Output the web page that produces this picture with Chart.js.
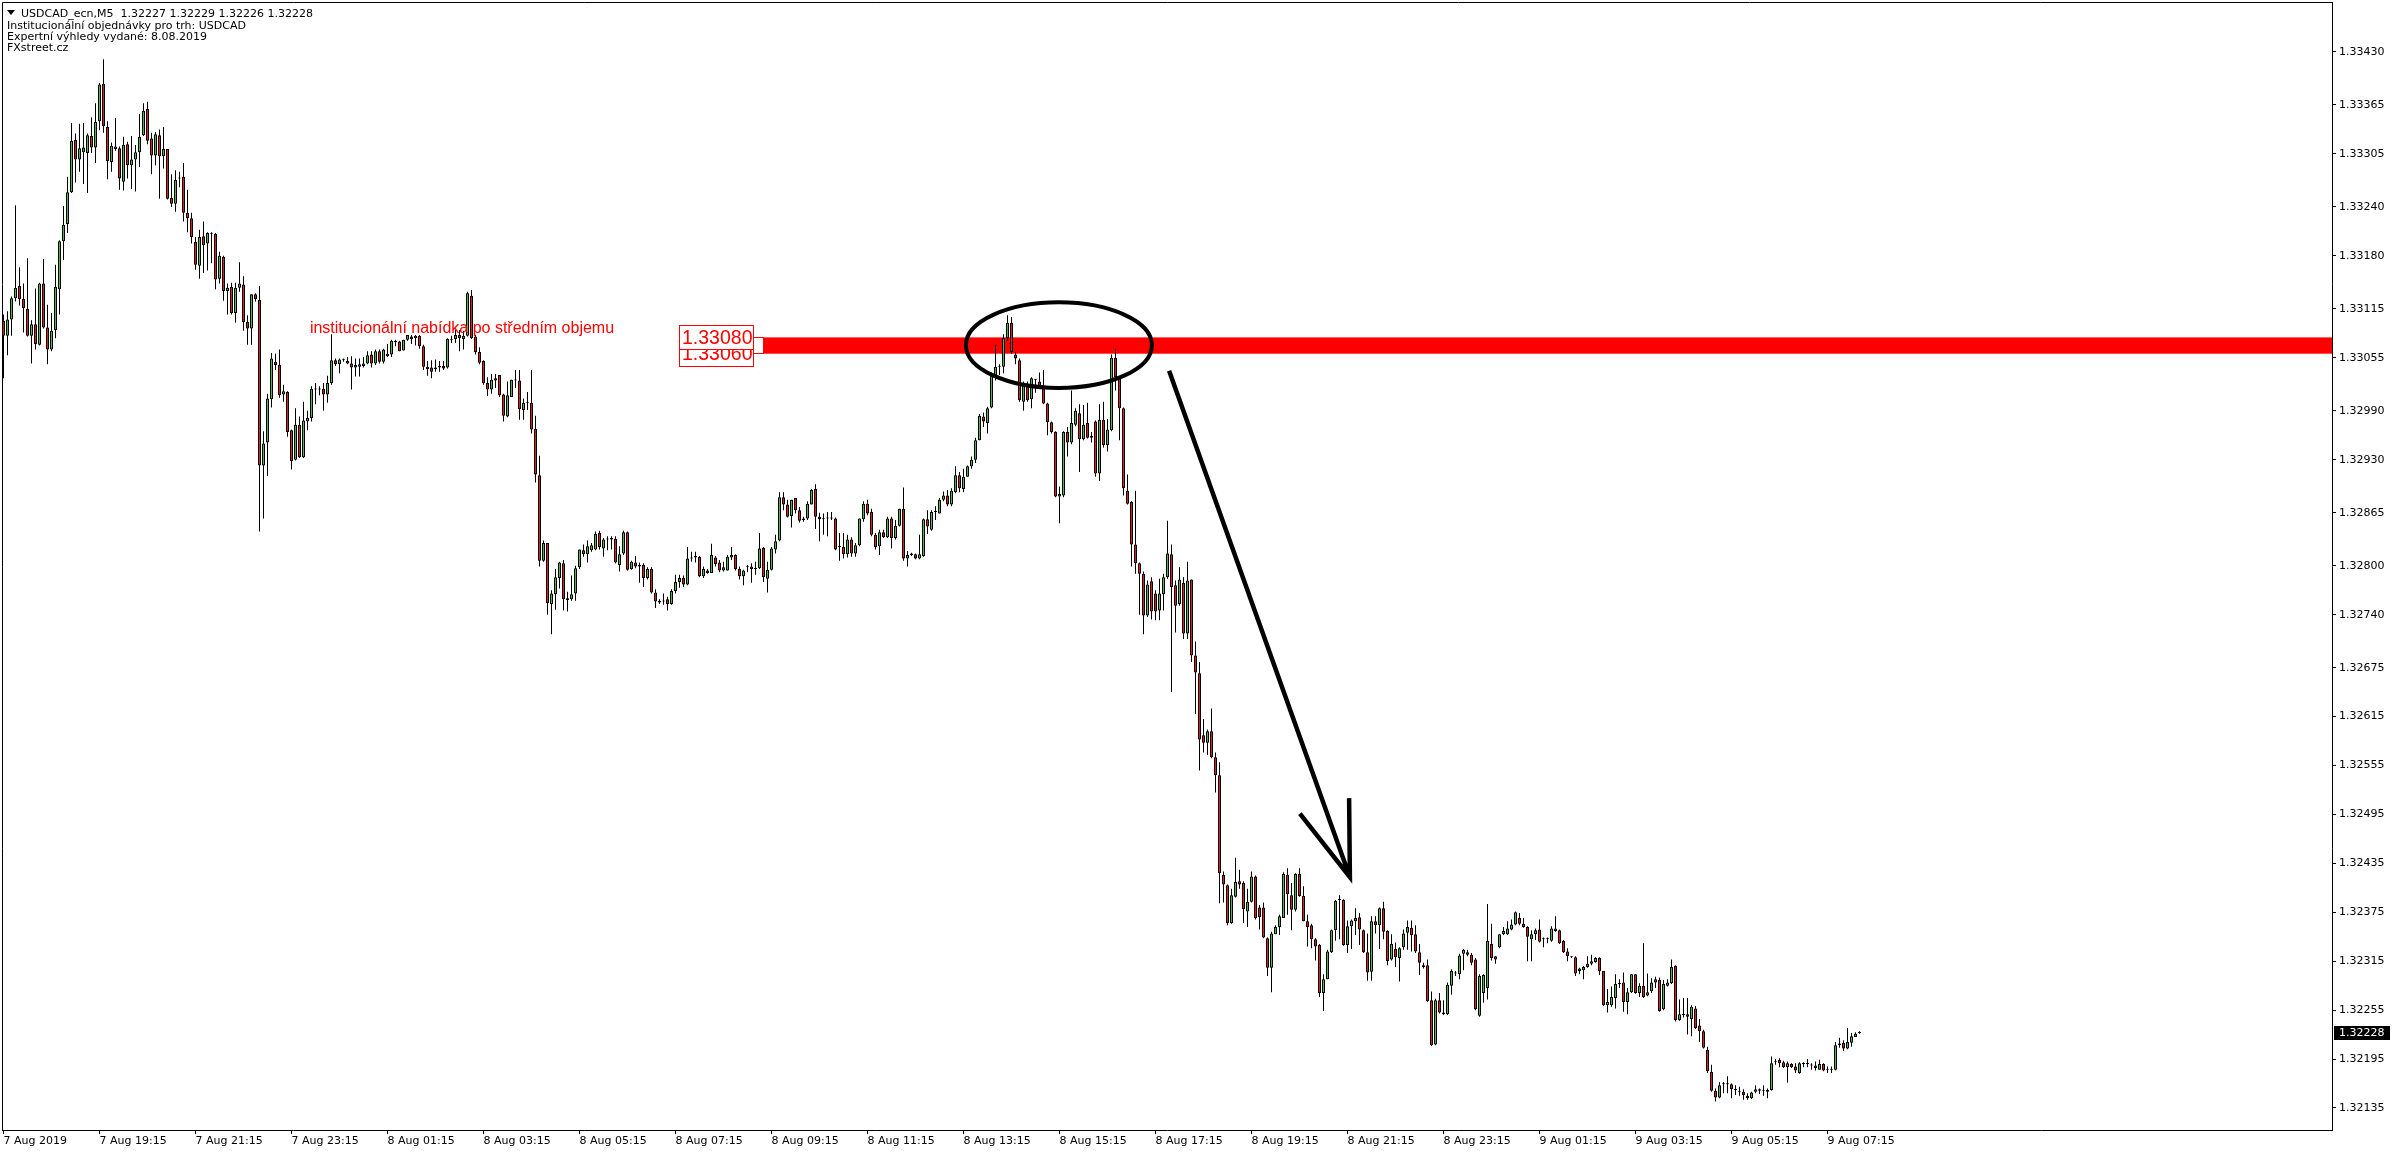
<!DOCTYPE html>
<html>
<head>
<meta charset="utf-8">
<script src="https://cdn.jsdelivr.net/npm/chart.js@4.4.1/dist/chart.umd.min.js"></script>
<style>
  html, body { margin: 0; padding: 0; background: #fff; overflow: hidden; }
  #chart { display: block; }
</style>
</head>
<body>
<canvas id="chart" width="2396" height="1154"></canvas>
<script>
// USDCAD M5 candles, 7 Aug 2019 17:15 -> 9 Aug 2019 07:55 (one entry per 5 min bar)
const opens = [
  1.33100,1.33082,1.33102,1.33128,1.33143,1.33127,1.33115,1.33082,1.33096,1.33071,
  1.33146,1.33092,1.33065,1.33089,1.33139,1.33198,1.33219,1.33258,1.33322,1.33298,
  1.33307,1.33306,1.33327,1.33313,1.33345,1.33391,1.33338,1.33295,1.33314,1.33312,
  1.33271,1.33317,1.33291,1.33298,1.33307,1.33328,1.33360,1.33324,1.33303,1.33328,
  1.33302,1.33311,1.33251,1.33244,1.33276,1.33277,1.33233,1.33226,1.33197,1.33168,
  1.33204,1.33195,1.33208,1.33207,1.33152,1.33179,1.33137,1.33142,1.33110,1.33141,
  1.33145,1.33099,1.33091,1.33133,1.33126,1.32923,1.32951,1.33004,1.33050,1.33046,
  1.33010,1.33013,1.32966,1.32930,1.32973,1.32933,1.32977,1.32981,1.33016,1.33017,
  1.33017,1.33010,1.33024,1.33052,1.33047,1.33053,1.33051,1.33048,1.33043,1.33044,
  1.33045,1.33048,1.33059,1.33048,1.33063,1.33050,1.33060,1.33059,1.33074,1.33075,
  1.33064,1.33077,1.33081,1.33079,1.33082,1.33069,1.33044,1.33043,1.33041,1.33043,
  1.33045,1.33043,1.33077,1.33078,1.33083,1.33078,1.33082,1.33131,1.33081,1.33062,
  1.33051,1.33024,1.33016,1.33027,1.33034,1.33010,1.32983,1.33007,1.33028,1.33027,
  1.32991,1.33000,1.33000,1.32968,1.32911,1.32806,1.32828,1.32753,1.32765,1.32785,
  1.32803,1.32758,1.32759,1.32766,1.32798,1.32819,1.32814,1.32819,1.32820,1.32840,
  1.32821,1.32832,1.32832,1.32833,1.32801,1.32815,1.32841,1.32796,1.32804,1.32799,
  1.32801,1.32785,1.32796,1.32767,1.32757,1.32756,1.32759,1.32753,1.32769,1.32780,
  1.32785,1.32777,1.32809,1.32810,1.32811,1.32787,1.32794,1.32791,1.32810,1.32804,
  1.32794,1.32794,1.32810,1.32813,1.32796,1.32787,1.32798,1.32799,1.32796,1.32797,
  1.32822,1.32784,1.32795,1.32820,1.32831,1.32884,1.32875,1.32861,1.32883,1.32868,
  1.32856,1.32858,1.32875,1.32894,1.32860,1.32857,1.32858,1.32859,1.32858,1.32824,
  1.32823,1.32814,1.32832,1.32815,1.32825,1.32857,1.32876,1.32866,1.32838,1.32824,
  1.32841,1.32835,1.32858,1.32834,1.32849,1.32870,1.32809,1.32815,1.32814,1.32809,
  1.32812,1.32857,1.32844,1.32866,1.32864,1.32881,1.32886,1.32875,1.32890,1.32911,
  1.32894,1.32909,1.32922,1.32930,1.32954,1.32983,1.32975,1.32994,1.33031,1.33044,
  1.33044,1.33079,1.33098,1.33059,1.33052,1.33001,1.33021,1.33004,1.33028,1.33026,
  1.33020,1.32999,1.32976,1.32964,1.32885,1.32886,1.32964,1.32951,1.32973,1.32987,
  1.32955,1.32975,1.32959,1.32977,1.32913,1.32979,1.32948,1.32966,1.33055,1.33030,
  1.32993,1.32892,1.32878,1.32826,1.32803,1.32790,1.32739,1.32781,1.32766,1.32745,
  1.32765,1.32786,1.32814,1.32776,1.32753,1.32779,1.32717,1.32783,1.32690,1.32668,
  1.32592,1.32583,1.32597,1.32565,1.32543,1.32421,1.32408,1.32362,1.32394,1.32413,
  1.32411,1.32376,1.32388,1.32419,1.32381,1.32381,1.32343,1.32307,1.32348,1.32357,
  1.32368,1.32421,1.32396,1.32378,1.32422,1.32395,1.32364,1.32359,1.32342,1.32335,
  1.32276,1.32293,1.32326,1.32353,1.32390,1.32390,1.32335,1.32358,1.32364,1.32369,
  1.32353,1.32326,1.32302,1.32364,1.32359,1.32380,1.32352,1.32317,1.32330,1.32319,
  1.32332,1.32350,1.32356,1.32348,1.32326,1.32310,1.32310,1.32267,1.32213,1.32267,
  1.32252,1.32250,1.32285,1.32300,1.32299,1.32324,1.32326,1.32323,1.32317,1.32248,
  1.32276,1.32282,1.32336,1.32321,1.32332,1.32348,1.32348,1.32354,1.32360,1.32368,
  1.32361,1.32357,1.32342,1.32348,1.32354,1.32343,1.32342,1.32340,1.32355,1.32353,
  1.32340,1.32327,1.32321,1.32320,1.32303,1.32304,1.32308,1.32312,1.32314,1.32319,
  1.32303,1.32261,1.32261,1.32270,1.32287,1.32289,1.32265,1.32277,1.32299,1.32276,
  1.32285,1.32273,1.32278,1.32289,1.32292,1.32256,1.32285,1.32288,1.32309,1.32243,
  1.32249,1.32250,1.32244,1.32257,1.32236,1.32229,1.32206,1.32179,1.32156,1.32148,
  1.32164,1.32164,1.32164,1.32157,1.32156,1.32155,1.32150,1.32147,1.32155,1.32158,
  1.32156,1.32155,1.32157,1.32191,1.32194,1.32191,1.32185,1.32189,1.32186,1.32178,
  1.32189,1.32190,1.32188,1.32187,1.32182,1.32189,1.32182,1.32182,1.32182,1.32212,
  1.32215,1.32208,1.32215,1.32222,1.32227
];
const highs = [
  1.33108,1.33112,1.33130,1.33242,1.33166,1.33146,1.33177,1.33101,1.33140,1.33147,
  1.33176,1.33120,1.33110,1.33169,1.33199,1.33241,1.33277,1.33343,1.33330,1.33342,
  1.33343,1.33330,1.33350,1.33367,1.33392,1.33421,1.33345,1.33319,1.33349,1.33314,
  1.33326,1.33320,1.33327,1.33316,1.33354,1.33367,1.33369,1.33331,1.33332,1.33335,
  1.33338,1.33311,1.33280,1.33285,1.33283,1.33294,1.33261,1.33233,1.33203,1.33212,
  1.33222,1.33209,1.33209,1.33208,1.33185,1.33180,1.33146,1.33147,1.33147,1.33172,
  1.33155,1.33107,1.33133,1.33134,1.33143,1.32965,1.33011,1.33061,1.33060,1.33065,
  1.33022,1.33014,1.32967,1.32993,1.32983,1.33001,1.32990,1.33020,1.33024,1.33020,
  1.33024,1.33033,1.33084,1.33054,1.33054,1.33054,1.33056,1.33057,1.33054,1.33054,
  1.33056,1.33063,1.33063,1.33065,1.33065,1.33066,1.33072,1.33077,1.33077,1.33076,
  1.33077,1.33083,1.33083,1.33083,1.33083,1.33071,1.33051,1.33052,1.33053,1.33051,
  1.33051,1.33079,1.33082,1.33089,1.33089,1.33088,1.33136,1.33138,1.33083,1.33068,
  1.33052,1.33031,1.33035,1.33035,1.33034,1.33011,1.33026,1.33028,1.33040,1.33040,
  1.33005,1.33013,1.33040,1.32984,1.32935,1.32831,1.32828,1.32770,1.32796,1.32805,
  1.32807,1.32768,1.32788,1.32800,1.32820,1.32826,1.32831,1.32828,1.32842,1.32843,
  1.32834,1.32836,1.32836,1.32836,1.32824,1.32843,1.32842,1.32806,1.32812,1.32804,
  1.32803,1.32798,1.32798,1.32771,1.32759,1.32766,1.32762,1.32771,1.32789,1.32789,
  1.32788,1.32823,1.32817,1.32817,1.32812,1.32799,1.32796,1.32827,1.32812,1.32807,
  1.32805,1.32813,1.32823,1.32814,1.32799,1.32795,1.32801,1.32803,1.32805,1.32840,
  1.32823,1.32805,1.32823,1.32838,1.32890,1.32890,1.32881,1.32881,1.32883,1.32872,
  1.32860,1.32879,1.32894,1.32900,1.32865,1.32864,1.32866,1.32866,1.32859,1.32840,
  1.32840,1.32838,1.32835,1.32828,1.32858,1.32879,1.32881,1.32870,1.32840,1.32844,
  1.32844,1.32860,1.32860,1.32856,1.32870,1.32896,1.32818,1.32816,1.32815,1.32838,
  1.32858,1.32868,1.32868,1.32873,1.32883,1.32891,1.32893,1.32895,1.32922,1.32915,
  1.32919,1.32923,1.32934,1.32957,1.32986,1.32988,1.32995,1.33037,1.33071,1.33047,
  1.33084,1.33107,1.33105,1.33062,1.33054,1.33026,1.33026,1.33031,1.33029,1.33037,
  1.33040,1.33000,1.32977,1.32965,1.32897,1.32965,1.32970,1.33015,1.32993,1.32998,
  1.32997,1.33000,1.32964,1.32978,1.32998,1.33001,1.32980,1.33059,1.33066,1.33031,
  1.32994,1.32912,1.32879,1.32892,1.32804,1.32793,1.32782,1.32786,1.32770,1.32784,
  1.32790,1.32855,1.32826,1.32782,1.32798,1.32786,1.32805,1.32783,1.32707,1.32682,
  1.32612,1.32599,1.32625,1.32571,1.32559,1.32425,1.32409,1.32404,1.32442,1.32427,
  1.32413,1.32404,1.32425,1.32420,1.32384,1.32387,1.32344,1.32351,1.32359,1.32372,
  1.32424,1.32429,1.32411,1.32423,1.32429,1.32407,1.32372,1.32361,1.32343,1.32336,
  1.32299,1.32329,1.32354,1.32390,1.32396,1.32391,1.32365,1.32366,1.32380,1.32374,
  1.32354,1.32349,1.32370,1.32370,1.32381,1.32388,1.32353,1.32348,1.32338,1.32332,
  1.32354,1.32365,1.32365,1.32359,1.32336,1.32313,1.32317,1.32278,1.32269,1.32276,
  1.32267,1.32289,1.32305,1.32303,1.32324,1.32330,1.32329,1.32325,1.32319,1.32299,
  1.32299,1.32385,1.32361,1.32321,1.32348,1.32357,1.32364,1.32366,1.32376,1.32374,
  1.32368,1.32358,1.32353,1.32355,1.32366,1.32344,1.32344,1.32358,1.32370,1.32354,
  1.32341,1.32331,1.32321,1.32321,1.32307,1.32309,1.32321,1.32323,1.32320,1.32320,
  1.32303,1.32281,1.32284,1.32299,1.32293,1.32301,1.32282,1.32299,1.32299,1.32288,
  1.32337,1.32300,1.32294,1.32296,1.32295,1.32292,1.32293,1.32317,1.32310,1.32268,
  1.32270,1.32270,1.32261,1.32260,1.32244,1.32231,1.32210,1.32188,1.32159,1.32167,
  1.32167,1.32174,1.32165,1.32163,1.32161,1.32158,1.32153,1.32155,1.32163,1.32159,
  1.32163,1.32159,1.32198,1.32195,1.32196,1.32193,1.32192,1.32190,1.32190,1.32191,
  1.32191,1.32195,1.32190,1.32192,1.32194,1.32190,1.32186,1.32186,1.32216,1.32221,
  1.32218,1.32233,1.32227,1.32228,1.32229
];
const lows = [
  1.33030,1.33058,1.33082,1.33124,1.33119,1.33086,1.33081,1.33048,1.33065,1.33070,
  1.33091,1.33047,1.33063,1.33079,1.33108,1.33175,1.33208,1.33257,1.33270,1.33283,
  1.33268,1.33257,1.33306,1.33294,1.33334,1.33331,1.33274,1.33283,1.33309,1.33261,
  1.33260,1.33275,1.33262,1.33259,1.33289,1.33327,1.33317,1.33280,1.33291,1.33250,
  1.33287,1.33249,1.33240,1.33234,1.33264,1.33222,1.33209,1.33195,1.33163,1.33152,
  1.33159,1.33162,1.33171,1.33139,1.33146,1.33125,1.33108,1.33108,1.33098,1.33136,
  1.33088,1.33071,1.33071,1.33124,1.32842,1.32858,1.32910,1.32994,1.33040,1.33006,
  1.33001,1.32958,1.32918,1.32929,1.32932,1.32932,1.32966,1.32977,1.32998,1.33009,
  1.32990,1.33000,1.33022,1.33045,1.33036,1.33050,1.33047,1.33016,1.33032,1.33032,
  1.33043,1.33047,1.33043,1.33046,1.33048,1.33048,1.33056,1.33056,1.33069,1.33063,
  1.33064,1.33076,1.33072,1.33070,1.33066,1.33040,1.33033,1.33030,1.33038,1.33038,
  1.33040,1.33042,1.33073,1.33073,1.33063,1.33065,1.33081,1.33078,1.33059,1.33047,
  1.33022,1.33008,1.33011,1.33018,1.33007,1.32977,1.32982,1.33007,1.33018,1.32979,
  1.32979,1.32991,1.32962,1.32902,1.32799,1.32805,1.32740,1.32716,1.32746,1.32772,
  1.32745,1.32744,1.32757,1.32757,1.32796,1.32811,1.32804,1.32817,1.32819,1.32820,
  1.32811,1.32819,1.32820,1.32803,1.32793,1.32813,1.32794,1.32795,1.32797,1.32779,
  1.32774,1.32783,1.32766,1.32748,1.32753,1.32752,1.32745,1.32752,1.32766,1.32773,
  1.32774,1.32776,1.32805,1.32804,1.32786,1.32785,1.32790,1.32791,1.32799,1.32792,
  1.32793,1.32794,1.32807,1.32794,1.32783,1.32776,1.32792,1.32779,1.32789,1.32796,
  1.32780,1.32767,1.32794,1.32815,1.32830,1.32868,1.32859,1.32847,1.32864,1.32853,
  1.32854,1.32856,1.32875,1.32845,1.32830,1.32838,1.32836,1.32856,1.32819,1.32806,
  1.32809,1.32810,1.32811,1.32811,1.32824,1.32854,1.32862,1.32836,1.32820,1.32813,
  1.32834,1.32834,1.32821,1.32832,1.32848,1.32806,1.32799,1.32812,1.32808,1.32808,
  1.32811,1.32839,1.32843,1.32856,1.32864,1.32879,1.32873,1.32873,1.32889,1.32890,
  1.32890,1.32909,1.32919,1.32926,1.32954,1.32970,1.32962,1.32993,1.33027,1.33034,
  1.33036,1.33076,1.33060,1.33047,1.33001,1.32990,1.33001,1.32993,1.33012,1.33018,
  1.32998,1.32960,1.32962,1.32884,1.32852,1.32884,1.32934,1.32949,1.32971,1.32915,
  1.32954,1.32956,1.32951,1.32909,1.32904,1.32945,1.32940,1.32965,1.33015,1.32954,
  1.32886,1.32875,1.32799,1.32790,1.32740,1.32716,1.32737,1.32734,1.32733,1.32733,
  1.32745,1.32784,1.32645,1.32718,1.32751,1.32710,1.32710,1.32682,1.32618,1.32549,
  1.32571,1.32568,1.32564,1.32522,1.32386,1.32387,1.32359,1.32361,1.32393,1.32404,
  1.32362,1.32357,1.32387,1.32366,1.32354,1.32343,1.32297,1.32277,1.32348,1.32347,
  1.32368,1.32372,1.32353,1.32376,1.32394,1.32364,1.32333,1.32331,1.32316,1.32271,
  1.32254,1.32293,1.32325,1.32340,1.32342,1.32334,1.32325,1.32330,1.32347,1.32335,
  1.32325,1.32291,1.32291,1.32349,1.32330,1.32342,1.32310,1.32316,1.32308,1.32290,
  1.32329,1.32329,1.32327,1.32325,1.32298,1.32306,1.32265,1.32211,1.32212,1.32251,
  1.32249,1.32249,1.32274,1.32297,1.32293,1.32304,1.32321,1.32310,1.32255,1.32247,
  1.32264,1.32268,1.32316,1.32312,1.32331,1.32347,1.32347,1.32353,1.32359,1.32359,
  1.32356,1.32315,1.32315,1.32341,1.32338,1.32332,1.32337,1.32339,1.32351,1.32336,
  1.32325,1.32315,1.32319,1.32297,1.32299,1.32293,1.32307,1.32310,1.32313,1.32298,
  1.32260,1.32252,1.32259,1.32257,1.32282,1.32253,1.32250,1.32276,1.32275,1.32271,
  1.32270,1.32272,1.32276,1.32282,1.32253,1.32255,1.32284,1.32287,1.32241,1.32242,
  1.32246,1.32225,1.32223,1.32232,1.32216,1.32208,1.32178,1.32155,1.32143,1.32147,
  1.32153,1.32153,1.32147,1.32151,1.32150,1.32145,1.32145,1.32146,1.32153,1.32152,
  1.32150,1.32147,1.32156,1.32188,1.32185,1.32184,1.32166,1.32184,1.32178,1.32177,
  1.32185,1.32185,1.32182,1.32181,1.32182,1.32180,1.32178,1.32178,1.32181,1.32209,
  1.32205,1.32207,1.32210,1.32222,1.32226
];
const closes = [
  1.33082,1.33102,1.33128,1.33141,1.33127,1.33116,1.33082,1.33096,1.33072,1.33146,
  1.33092,1.33065,1.33088,1.33142,1.33198,1.33218,1.33258,1.33321,1.33298,1.33312,
  1.33313,1.33328,1.33313,1.33344,1.33390,1.33339,1.33296,1.33315,1.33311,1.33275,
  1.33316,1.33291,1.33298,1.33307,1.33326,1.33358,1.33321,1.33303,1.33329,1.33302,
  1.33311,1.33250,1.33244,1.33273,1.33275,1.33233,1.33226,1.33203,1.33169,1.33203,
  1.33193,1.33208,1.33207,1.33151,1.33180,1.33137,1.33141,1.33110,1.33141,1.33146,
  1.33099,1.33091,1.33133,1.33127,1.32923,1.32950,1.33005,1.33054,1.33046,1.33009,
  1.33014,1.32964,1.32928,1.32973,1.32933,1.32978,1.32981,1.33017,1.33017,1.33016,
  1.33010,1.33024,1.33052,1.33047,1.33053,1.33052,1.33048,1.33043,1.33046,1.33047,
  1.33048,1.33058,1.33048,1.33063,1.33050,1.33065,1.33057,1.33076,1.33076,1.33063,
  1.33077,1.33083,1.33078,1.33082,1.33069,1.33044,1.33041,1.33038,1.33043,1.33045,
  1.33042,1.33078,1.33078,1.33083,1.33079,1.33082,1.33134,1.33079,1.33062,1.33049,
  1.33024,1.33016,1.33028,1.33030,1.33009,1.32984,1.33009,1.33028,1.33027,1.32992,
  1.33000,1.33000,1.32967,1.32912,1.32806,1.32828,1.32754,1.32766,1.32786,1.32804,
  1.32759,1.32760,1.32765,1.32797,1.32820,1.32814,1.32824,1.32825,1.32839,1.32823,
  1.32832,1.32833,1.32834,1.32804,1.32814,1.32841,1.32795,1.32805,1.32799,1.32801,
  1.32785,1.32796,1.32767,1.32756,1.32755,1.32756,1.32753,1.32769,1.32780,1.32785,
  1.32777,1.32809,1.32810,1.32812,1.32787,1.32796,1.32791,1.32813,1.32802,1.32794,
  1.32798,1.32811,1.32813,1.32796,1.32787,1.32794,1.32798,1.32796,1.32797,1.32821,
  1.32786,1.32795,1.32821,1.32830,1.32884,1.32875,1.32860,1.32881,1.32868,1.32855,
  1.32858,1.32876,1.32893,1.32860,1.32857,1.32857,1.32858,1.32858,1.32820,1.32823,
  1.32814,1.32832,1.32815,1.32825,1.32858,1.32876,1.32864,1.32838,1.32823,1.32841,
  1.32835,1.32858,1.32834,1.32849,1.32870,1.32809,1.32813,1.32813,1.32809,1.32814,
  1.32857,1.32848,1.32866,1.32867,1.32881,1.32886,1.32875,1.32892,1.32911,1.32895,
  1.32909,1.32922,1.32930,1.32954,1.32984,1.32977,1.32993,1.33033,1.33044,1.33044,
  1.33079,1.33098,1.33062,1.33054,1.33003,1.33021,1.33003,1.33030,1.33028,1.33019,
  1.32999,1.32976,1.32964,1.32885,1.32888,1.32964,1.32951,1.32975,1.32990,1.32955,
  1.32973,1.32957,1.32957,1.32913,1.32979,1.32948,1.32967,1.33055,1.33031,1.32993,
  1.32895,1.32876,1.32826,1.32803,1.32790,1.32739,1.32777,1.32744,1.32744,1.32766,
  1.32786,1.32815,1.32774,1.32751,1.32783,1.32717,1.32782,1.32690,1.32669,1.32587,
  1.32583,1.32597,1.32565,1.32543,1.32423,1.32409,1.32362,1.32396,1.32412,1.32409,
  1.32379,1.32388,1.32419,1.32368,1.32369,1.32344,1.32307,1.32349,1.32357,1.32370,
  1.32422,1.32397,1.32378,1.32422,1.32395,1.32364,1.32357,1.32342,1.32333,1.32276,
  1.32293,1.32327,1.32353,1.32389,1.32390,1.32335,1.32358,1.32365,1.32368,1.32354,
  1.32326,1.32301,1.32364,1.32359,1.32380,1.32351,1.32315,1.32336,1.32320,1.32331,
  1.32349,1.32357,1.32347,1.32327,1.32313,1.32308,1.32266,1.32212,1.32267,1.32252,
  1.32250,1.32286,1.32303,1.32300,1.32322,1.32329,1.32323,1.32313,1.32256,1.32297,
  1.32298,1.32340,1.32319,1.32317,1.32348,1.32352,1.32355,1.32360,1.32375,1.32361,
  1.32357,1.32345,1.32348,1.32353,1.32339,1.32342,1.32342,1.32355,1.32352,1.32337,
  1.32326,1.32321,1.32320,1.32300,1.32306,1.32308,1.32312,1.32315,1.32319,1.32303,
  1.32261,1.32265,1.32271,1.32287,1.32288,1.32265,1.32277,1.32299,1.32276,1.32285,
  1.32271,1.32277,1.32289,1.32293,1.32254,1.32287,1.32289,1.32308,1.32243,1.32250,
  1.32250,1.32247,1.32259,1.32233,1.32229,1.32209,1.32180,1.32156,1.32148,1.32163,
  1.32164,1.32165,1.32158,1.32157,1.32155,1.32151,1.32147,1.32154,1.32158,1.32156,
  1.32156,1.32157,1.32190,1.32192,1.32190,1.32185,1.32190,1.32185,1.32181,1.32190,
  1.32190,1.32189,1.32187,1.32184,1.32189,1.32181,1.32182,1.32183,1.32212,1.32214,
  1.32208,1.32216,1.32223,1.32226,1.32228
];

// time axis labels (bar index -> label)
const timeTickBars = [0, 24, 48, 72, 96, 120, 144, 168, 192, 216, 240, 264, 288, 312, 336, 360, 384, 408, 432, 456];
const timeTickLabels = ['7 Aug 2019', '7 Aug 19:15', '7 Aug 21:15', '7 Aug 23:15', '8 Aug 01:15', '8 Aug 03:15',
  '8 Aug 05:15', '8 Aug 07:15', '8 Aug 09:15', '8 Aug 11:15', '8 Aug 13:15', '8 Aug 15:15', '8 Aug 17:15',
  '8 Aug 19:15', '8 Aug 21:15', '8 Aug 23:15', '9 Aug 01:15', '9 Aug 03:15', '9 Aug 05:15', '9 Aug 07:15'];
const priceTicks = [1.33430, 1.33365, 1.33305, 1.33240, 1.33180, 1.33115, 1.33055, 1.32990, 1.32930, 1.32865,
  1.32800, 1.32740, 1.32675, 1.32615, 1.32555, 1.32495, 1.32435, 1.32375, 1.32315, 1.32255, 1.32195, 1.32135];

const headerLines = [
  'USDCAD_ecn,M5  1.32227 1.32229 1.32226 1.32228',
  'Institucionální objednávky pro trh: USDCAD',
  'Expertní výhledy vydané: 8.08.2019',
  'FXstreet.cz'
];
const lastPrice = 1.32228;

// drawn objects, anchored in (bar, price)
const zone = { top: 1.33080, bottom: 1.33060, fromBar: 189.95 };
const note = { text: 'institucionální nabídka po středním objemu', bar: 76.6, price: 1.33085 };
const ring = { bars: [240.6, 287.1], prices: [1.33123, 1.33018] };
const arrow = { from: [291.4, 1.33039], to: [336.6, 1.32418], headA: [324.1, 1.32496], headB: [336.4, 1.32515] };

const GREEN = '#4cbb4c';
const RED = '#e01e1e';
const FONT = '"DejaVu Sans", sans-serif';

const wickData = lows.map((l, i) => ({ x: i, y: [l, highs[i]] }));
const bodyData = opens.map((o, i) => ({ x: i, y: [o, closes[i]] }));
const bodyColors = opens.map((o, i) => closes[i] >= o ? GREEN : RED);

const objects = {
  id: 'mt4objects',
  beforeDatasetsDraw(chart) {
    const { ctx, chartArea, scales: { x, y } } = chart;
    ctx.save();
    const xs = x.getPixelForValue(zone.fromBar);
    const yt = y.getPixelForValue(zone.top), yb = y.getPixelForValue(zone.bottom);
    ctx.fillStyle = '#ff0000';
    ctx.fillRect(xs, yt, chartArea.right - xs, yb - yt);
    ctx.restore();
  },
  afterDraw(chart) {
    const { ctx, chartArea, scales: { x, y } } = chart;
    const px = (b) => x.getPixelForValue(b);
    const py = (p) => y.getPixelForValue(p);
    ctx.save();

    // frame (top / left)
    ctx.strokeStyle = '#000';
    ctx.lineWidth = 1;
    ctx.beginPath();
    ctx.moveTo(chartArea.left + 0.5, chartArea.bottom);
    ctx.lineTo(chartArea.left + 0.5, chartArea.top + 0.5);
    ctx.lineTo(chartArea.right, chartArea.top + 0.5);
    ctx.stroke();

    // zone price labels
    const xs = px(zone.fromBar);
    const yt = py(zone.top), yb = py(zone.bottom);
    ctx.fillStyle = '#fff';
    ctx.strokeStyle = '#ff0000';
    ctx.fillRect(xs - 10, yt, 10, yb - yt);
    ctx.strokeRect(Math.round(xs - 10) + 0.5, Math.round(yt) + 0.5, 10, Math.round(yb - yt));
    ctx.font = '19.5px "Liberation Sans", Arial, sans-serif';
    ctx.textBaseline = 'middle';
    ctx.textAlign = 'left';
    [[zone.bottom, yb], [zone.top, yt]].forEach(([p, yy]) => {
      const bx = Math.round(xs - 84) + 0.5, by = Math.round(yy - 12) + 0.5;
      ctx.fillStyle = '#fff';
      ctx.fillRect(bx, by, 74, 24);
      ctx.strokeRect(bx, by, 74, 24);
      ctx.fillStyle = '#ff0000';
      ctx.fillText(p.toFixed(5), bx + 2.5, yy + 1);
    });

    // note text
    ctx.font = '16px "Liberation Sans", Arial, sans-serif';
    ctx.fillStyle = '#ff0000';
    ctx.textBaseline = 'alphabetic';
    ctx.fillText(note.text, px(note.bar), py(note.price));

    // ellipse
    const ex0 = px(ring.bars[0]), ex1 = px(ring.bars[1]);
    const ey0 = py(ring.prices[0]), ey1 = py(ring.prices[1]);
    ctx.strokeStyle = '#000';
    ctx.lineWidth = 4;
    ctx.beginPath();
    ctx.ellipse((ex0 + ex1) / 2, (ey0 + ey1) / 2, (ex1 - ex0) / 2, (ey1 - ey0) / 2, 0, 0, Math.PI * 2);
    ctx.stroke();

    // arrow
    ctx.lineWidth = 4.5;
    ctx.lineCap = 'butt';
    ctx.beginPath();
    ctx.moveTo(px(arrow.from[0]), py(arrow.from[1]));
    ctx.lineTo(px(arrow.to[0]), py(arrow.to[1]));
    ctx.moveTo(px(arrow.headA[0]), py(arrow.headA[1]));
    ctx.lineTo(px(arrow.to[0]), py(arrow.to[1]));
    ctx.lineTo(px(arrow.headB[0]), py(arrow.headB[1]));
    ctx.stroke();

    // last price label on the axis
    const ly = py(lastPrice);
    ctx.fillStyle = '#000';
    ctx.fillRect(chartArea.right + 2, Math.round(ly) - 6, 56, 14);
    ctx.fillStyle = '#fff';
    ctx.font = '11px ' + FONT;
    ctx.textBaseline = 'middle';
    ctx.fillText(lastPrice.toFixed(5), chartArea.right + 7, Math.round(ly) + 1);

    // header
    ctx.fillStyle = '#000';
    ctx.beginPath();
    ctx.moveTo(7, 10); ctx.lineTo(15, 10); ctx.lineTo(11, 15); ctx.closePath();
    ctx.fill();
    ctx.textBaseline = 'alphabetic';
    const baselines = [17, 29, 40, 51];
    headerLines.forEach((t, i) => ctx.fillText(t, i === 0 ? 21 : 7, baselines[i]));

    ctx.restore();
  }
};

Chart.defaults.font.family = FONT;
Chart.defaults.font.size = 11;
Chart.defaults.color = '#000';

new Chart(document.getElementById('chart'), {
  type: 'bar',
  data: {
    datasets: [
      {
        label: 'wicks', data: wickData, backgroundColor: '#000', borderWidth: 0,
        barThickness: 1, grouped: false, inflateAmount: 0, order: 2
      },
      {
        label: 'bodies', data: bodyData, backgroundColor: bodyColors, borderColor: '#000', borderWidth: 1,
        borderSkipped: false, barThickness: 3, grouped: false, inflateAmount: 0, minBarLength: 1, order: 1
      }
    ]
  },
  options: {
    responsive: false,
    animation: false,
    devicePixelRatio: 1,
    layout: { padding: { left: 2, top: 2, right: 0, bottom: 0 } },
    plugins: { legend: { display: false }, tooltip: { enabled: false } },
    scales: {
      x: {
        type: 'linear', min: -0.375, max: 582.125, offset: false,
        grid: { drawOnChartArea: false, drawTicks: true, tickLength: 4, color: '#000', tickColor: '#000', offset: false },
        border: { display: true, color: '#000', width: 1 },
        afterBuildTicks: (s) => { s.ticks = timeTickBars.map(v => ({ value: v })); },
        afterFit: (s) => { s.height = 24; s.paddingLeft = 0; s.paddingRight = 0; },
        ticks: {
          autoSkip: false, maxRotation: 0, minRotation: 0, align: 'start', padding: 1,
          font: { family: FONT, size: 11 },
          callback: (v) => timeTickLabels[timeTickBars.indexOf(v)] || ''
        }
      },
      y: {
        type: 'linear', position: 'right', min: 1.32108, max: 1.334913, beginAtZero: false,
        grid: { drawOnChartArea: false, drawTicks: true, tickLength: 4, color: '#000', tickColor: '#000' },
        border: { display: true, color: '#000', width: 1 },
        afterBuildTicks: (s) => { s.ticks = priceTicks.map(v => ({ value: v })); },
        afterFit: (s) => { s.width = 64; s.paddingTop = 0; s.paddingBottom = 0; },
        ticks: { padding: 3, font: { family: FONT, size: 11 }, callback: (v) => v.toFixed(5) }
      }
    }
  },
  plugins: [objects]
});
</script>
</body>
</html>
